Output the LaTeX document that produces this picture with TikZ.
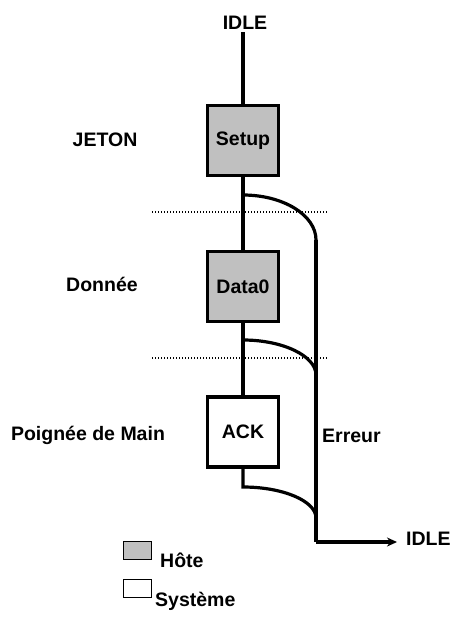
\documentclass[tikz,border=0pt]{standalone}
\usepackage{fontspec}
\setmainfont{Liberation Sans}
\usetikzlibrary{arrows.meta, positioning}

\definecolor{hotegris}{RGB}{192,192,192}

\begin{document}
\begin{tikzpicture}[x=1pt, y=-1pt, >={Stealth[length=10pt,width=9pt]},
    every node/.style={font=\fontsize{19.5}{23}\selectfont\bfseries},
    texte/.style={inner sep=0pt},
    etat/.style={draw, line width=3.2pt, minimum width=71pt, minimum height=70pt, inner sep=0pt},
    hote/.style={etat, fill=hotegris},
    lien/.style={line width=3.2pt},
    pointille/.style={line width=1.6pt, dash pattern=on 1pt off 2pt},
    legende/.style={draw, line width=1pt, minimum width=28pt, minimum height=18pt, inner sep=0pt}]
        \useasboundingbox (0,0) rectangle (453,618);
        % etats
        \node[texte, anchor=base] (idle) at (245,30) {IDLE};
        \node[hote] (setup) at (243,140.5) {Setup};
        \node[hote] (data) at (243,286.5) {Data0};
        \node[etat] (ack) at (243,432) {ACK};
        % phases
        \node[texte, anchor=base] (jeton) at (105,146) {JETON};
        \node[texte, anchor=base] (donnee) at (102,291) {Donnée};
        \node[texte, anchor=base] (poignee) at (88,440) {Poignée de Main};
        \node[texte, anchor=base west] (erreur) at (322,442) {Erreur};
        \node[texte, anchor=base west] (idlefin) at (406,545) {IDLE};
        % separateurs
        \draw[pointille] (152,212) -- (328,212);
        \draw[pointille] (152,358) -- (328,358);
        % points de branchement
        \coordinate (b1) at (243,195);
        \coordinate (b2) at (243,340);
        \coordinate (b3) at (243,487);
        \coordinate (j1) at (316,240);
        \coordinate (j2) at (316,375);
        \coordinate (j3) at (316,518);
        \coordinate (coin) at (316,542);
        \coordinate (fleche) at (397,542);
        % liens
        \draw[lien] (setup.north |- idle.south) ++(0,2) -- (setup.north);
        \draw[lien] (setup) -- (data);
        \draw[lien] (data) -- (ack);
        \draw[lien] (b1) .. controls +(40,0) and +(0,-25) .. (j1);
        \draw[lien] (b2) .. controls +(40,0) and +(0,-19) .. (j2);
        \draw[lien] (ack) -- (b3) .. controls +(40,0) and +(0,-17) .. (j3);
        \draw[lien] (j1) -- (coin);
        \draw[lien, ->] (coin) -- (fleche);
        % legende
        \node[legende, fill=hotegris] (leghote) at (137.5,550.5) {};
        \node[legende] (legsys) at (137.5,588.5) {};
        \node[texte, anchor=base west] (hote) at (160,567) {Hôte};
        \node[texte, anchor=base west] (systeme) at (155,606) {Système};
\end{tikzpicture}
\end{document}
